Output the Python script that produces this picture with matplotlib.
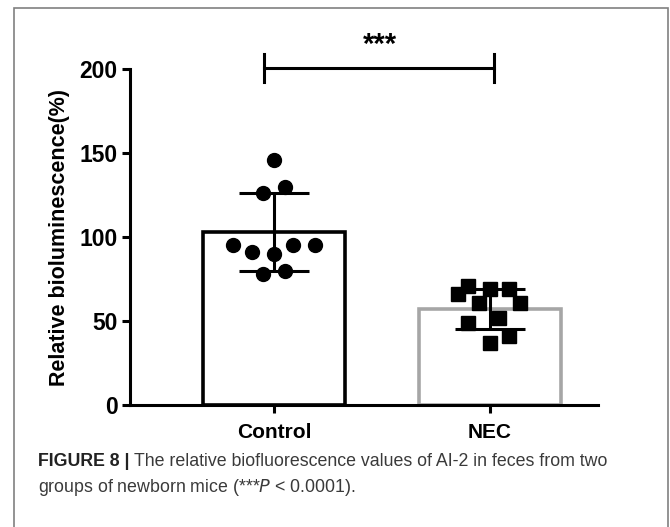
import matplotlib
matplotlib.use("Agg")
import matplotlib.pyplot as plt
from matplotlib.patches import Rectangle

groups = ['Control', 'NEC']
bar_means = [103, 57]
bar_sd = [23, 12]
control_pts = [146, 126, 130, 95, 91, 90, 95, 95, 78, 80]
control_x = [0.0, -0.05, 0.05, -0.19, -0.10, 0.0, 0.09, 0.19, -0.05, 0.05]
nec_pts = [71, 66, 69, 69, 61, 61, 52, 49, 41, 37]
nec_x = [-0.10, -0.15, 0.0, 0.09, -0.05, 0.14, 0.04, -0.10, 0.09, 0.0]
star_text = '***'

plt.rcParams['font.family'] = ['Liberation Sans', 'DejaVu Sans']

fig = plt.figure(figsize=(6.7, 5.27), dpi=100)
fig.patches.append(Rectangle((14/670, -0.05), (668-14)/670, 1-8/527+0.05,
                             transform=fig.transFigure, fill=False,
                             edgecolor='#808080', linewidth=1.2))

ax = fig.add_axes([130/670, 1-405/527, (598-130)/670, (405-69)/527])
edge_cols = ['black', '#a6a6a6']
for i in range(2):
    ax.bar(i, bar_means[i], width=0.66, facecolor='white',
           edgecolor=edge_cols[i], linewidth=2.6, zorder=1)
    ax.errorbar(i, bar_means[i], yerr=bar_sd[i], color='black', elinewidth=2.2,
                capsize=25, capthick=2.2, zorder=3)

ax.plot(control_x, control_pts, 'o', color='black', markersize=10, zorder=4,
        linestyle='none')
ax.plot([1 + v for v in nec_x], nec_pts, 's', color='black', markersize=10.5,
        zorder=4, linestyle='none')

# significance bracket
ax.plot([-0.045, 1.02], [200.5, 200.5], color='black', lw=2.2, clip_on=False)
ax.plot([-0.045, -0.045], [192, 209], color='black', lw=2.2, clip_on=False)
ax.plot([1.02, 1.02], [192, 209], color='black', lw=2.2, clip_on=False)
ax.text(0.49, 206, star_text, ha='center', va='bottom', fontsize=21,
        fontweight='bold', clip_on=False)

ax.set_xlim(-0.667, 1.5)
ax.set_ylim(0, 200)
ax.set_yticks([0, 50, 100, 150, 200])
ax.set_xticks([0, 1])
ax.set_xticklabels(groups, fontsize=15, fontweight='bold')
for lab in ax.get_yticklabels():
    lab.set_fontsize(16.5)
    lab.set_fontweight('bold')
ax.tick_params(axis='both', width=2.2, length=6, direction='out', pad=3)
ax.tick_params(axis='x', pad=7)
for s in ['top', 'right']:
    ax.spines[s].set_visible(False)
for s in ['left', 'bottom']:
    ax.spines[s].set_linewidth(2.2)
ax.set_ylabel('Relative bioluminescence(%)', fontsize=15.5, fontweight='bold',
              labelpad=7)

# caption
fig.canvas.draw()
r = fig.canvas.get_renderer()
cap_size = 12.8
t1 = fig.text(38/670, 1-462/527, 'FIGURE 8 |', fontsize=cap_size, fontweight='bold',
              color='#222222', va='center')
bb = t1.get_window_extent(renderer=r)
fig.text((bb.x1 + 4)/670, 1-462/527,
         'The relative biofluorescence values of AI-2 in feces from two',
         fontsize=cap_size, color='#3a3a3a', va='center')
fig.text(38/670, 1-488/527, 'groups of newborn mice (***$P$ < 0.0001).',
         fontsize=cap_size, color='#3a3a3a', va='center')

fig.savefig('out.png', dpi=100)
